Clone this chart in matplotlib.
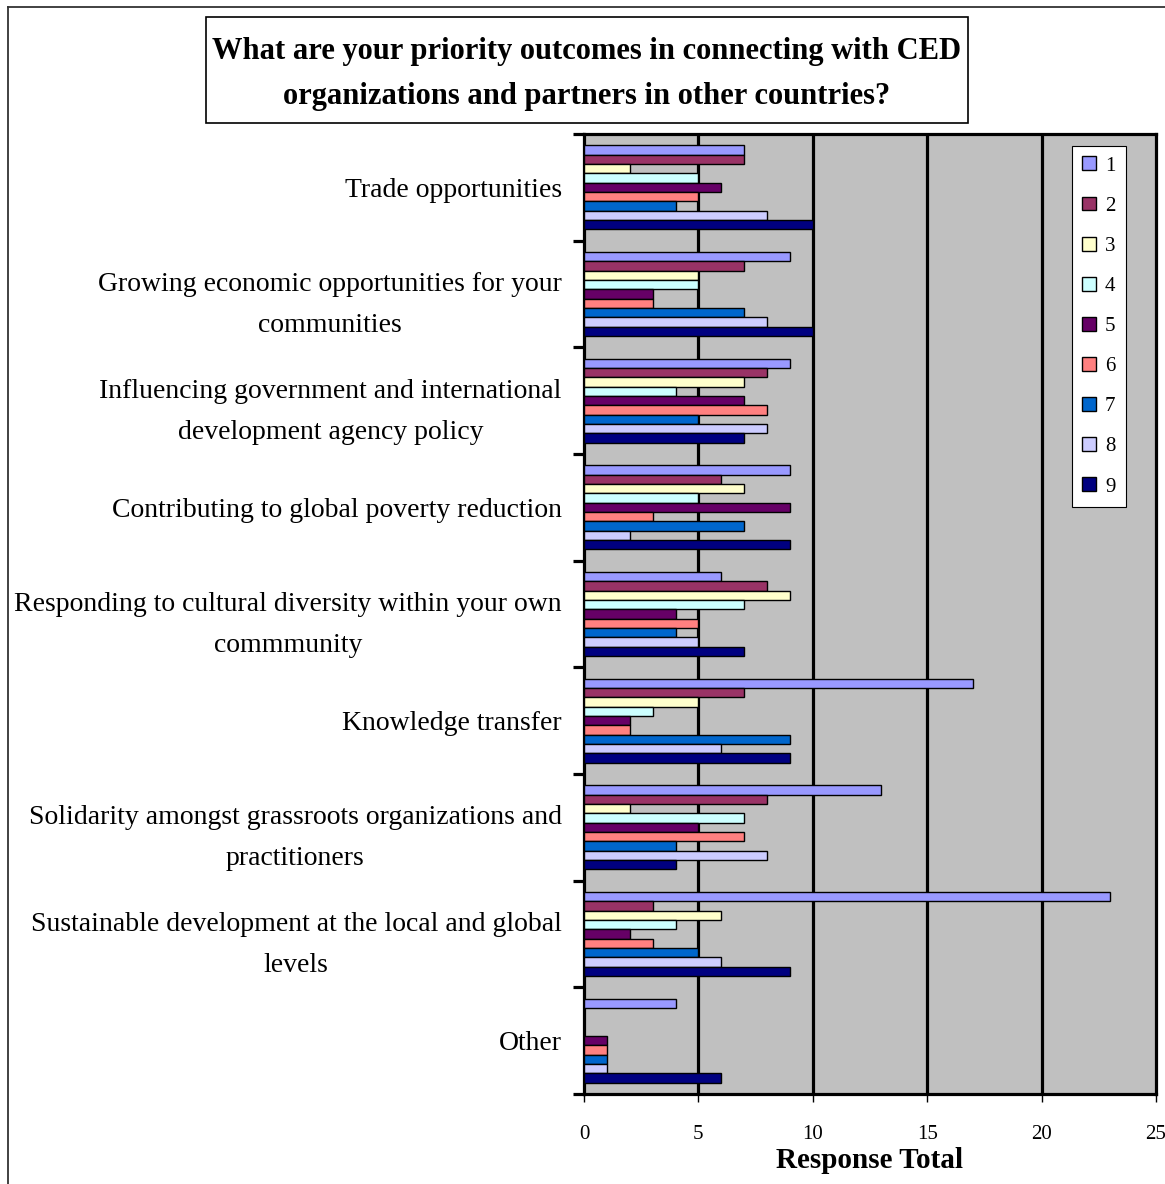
import matplotlib
matplotlib.use("Agg")
import matplotlib.pyplot as plt
from matplotlib.lines import Line2D
from matplotlib.patches import Rectangle
import numpy as np

plt.rcParams["font.family"] = ["Liberation Serif", "DejaVu Serif"]

categories = [
    "Trade opportunities",
    "Growing economic opportunities for your\ncommunities",
    "Influencing government and international\ndevelopment agency policy",
    "Contributing to global poverty reduction",
    "Responding to cultural diversity within your own\ncommmunity",
    "Knowledge transfer",
    "Solidarity amongst grassroots organizations and\npractitioners",
    "Sustainable development at the local and global\nlevels",
    "Other",
]
series_names = ["1", "2", "3", "4", "5", "6", "7", "8", "9"]

# one list per series, values in category order
s1 = [7, 9, 9, 9, 6, 17, 13, 23, 4]
s2 = [7, 7, 8, 6, 8, 7, 8, 3, 0]
s3 = [2, 5, 7, 7, 9, 5, 2, 6, 0]
s4 = [5, 5, 4, 5, 7, 3, 7, 4, 0]
s5 = [6, 3, 7, 9, 4, 2, 5, 2, 1]
s6 = [5, 3, 8, 3, 5, 2, 7, 3, 1]
s7 = [4, 7, 5, 7, 4, 9, 4, 5, 1]
s8 = [8, 8, 8, 2, 5, 6, 8, 6, 1]
s9 = [10, 10, 7, 9, 7, 9, 4, 9, 6]
series = [s1, s2, s3, s4, s5, s6, s7, s8, s9]

colors = ["#9999FF", "#993366", "#FFFFCC", "#CCFFFF", "#660066",
          "#FF8080", "#0066CC", "#CCCCFF", "#000080"]

W, H = 1165, 1184
fig = plt.figure(figsize=(W / 100, H / 100), dpi=100)
ax = fig.add_axes([584 / W, 1 - 1094 / H, (1156 - 584) / W, (1094 - 134) / H])
ax.set_facecolor("#C0C0C0")

n = len(series)
bh = 0.0875
y = np.arange(len(categories))
handles = []
for j, vals in enumerate(series):
    b = ax.barh(y + (j - (n - 1) / 2) * bh, vals, height=bh, color=colors[j],
                edgecolor="black", linewidth=1.0, zorder=3, label=series_names[j])
    handles.append(b)

ax.set_xlim(0, 25)
ax.set_ylim(len(categories) - 0.5, -0.5)

# vertical gridlines
for gx in [5, 10, 15, 20]:
    ax.axvline(gx, color="black", lw=2.3, zorder=1)

for sp in ax.spines.values():
    sp.set_linewidth(2.3)
    sp.set_color("black")

ax.set_xticks([0, 5, 10, 15, 20, 25])
ax.tick_params(axis="x", direction="out", length=6, width=1, pad=16, labelsize=15)

ax.set_yticks(y)
ax.set_yticklabels(categories, fontsize=20, linespacing=1.84)
for lab in ax.get_yticklabels():
    lab.set_multialignment("center")
ax.tick_params(axis="y", which="major", length=0, pad=16)
ax.set_yticks(np.arange(len(categories) + 1) - 0.5, minor=True)
ax.tick_params(axis="y", which="minor", direction="out", length=8, width=2.3)

fig.text(870 / W, 1 - 1160 / H, "Response Total", ha="center", va="center",
         fontsize=21, fontweight="bold")

leg = ax.legend(handles=handles, loc="upper right", bbox_to_anchor=(1126 / W, 1 - 146 / H),
                bbox_transform=fig.transFigure, fontsize=15, frameon=True, fancybox=False,
                edgecolor="black", framealpha=1, handlelength=0.65, handleheight=0.65,
                handletextpad=0.45, labelspacing=1.0, borderpad=0.5, borderaxespad=0)
leg.get_frame().set_linewidth(0.8)

# title box
fig.add_artist(Rectangle((206 / W, 1 - 123 / H), (968 - 206) / W, (123 - 17) / H,
                         transform=fig.transFigure, facecolor="white",
                         edgecolor="black", lw=1.2))
fig.text(587 / W, 1 - 74 / H,
         "What are your priority outcomes in connecting with CED\n"
         "organizations and partners in other countries?",
         ha="center", va="center", fontsize=22, fontweight="bold", linespacing=1.73)

# outer frame lines
fig.add_artist(Line2D([8 / W, 8 / W], [0, 1 - 7 / H], transform=fig.transFigure,
                      color="#333333", lw=1.3))
fig.add_artist(Line2D([8 / W, 1], [1 - 7 / H, 1 - 7 / H], transform=fig.transFigure,
                      color="#333333", lw=1.3))

fig.savefig("out.png", dpi=100, facecolor="white")
